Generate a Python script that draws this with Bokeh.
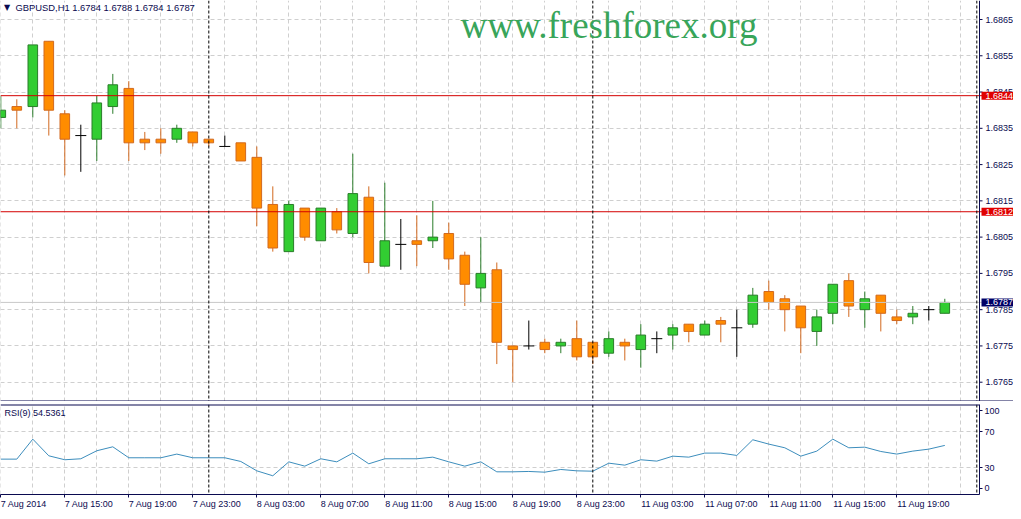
from bokeh.plotting import figure
from bokeh.models import Range1d, FixedTicker, Span, Label
from bokeh.layouts import column
from bokeh.embed import file_html
from bokeh.resources import INLINE

# ---------------- data (GBPUSD H1, 7 Aug 11:00 .. 11 Aug 22:00) ----------------
opens = [1.6838, 1.6841, 1.6841, 1.6859, 1.6839, 1.6833, 1.6832, 1.6841, 1.6846, 1.6832,
         1.6832, 1.6832, 1.6834, 1.6832, 1.6830, 1.6831, 1.6827, 1.6814, 1.6801, 1.6813,
         1.6804, 1.6812, 1.6806, 1.6816, 1.6797, 1.6803, 1.6804, 1.6804, 1.6806, 1.6800,
         1.6791, 1.6796, 1.6775, 1.6775, 1.6776, 1.6775, 1.6777, 1.6776, 1.6773, 1.6776,
         1.6774, 1.6777, 1.6778, 1.6781, 1.6778, 1.6782, 1.6780, 1.6781, 1.6790, 1.6788,
         1.6786, 1.6779, 1.6784, 1.6793, 1.6785, 1.6789, 1.6783, 1.6783, 1.6785, 1.6784]
highs = [1.6844, 1.6843, 1.6858, 1.6859, 1.6840, 1.6836, 1.6844, 1.6850, 1.6848, 1.6834,
         1.6835, 1.6836, 1.6834, 1.6832, 1.6833, 1.6831, 1.6830, 1.6819, 1.6815, 1.6813,
         1.6813, 1.6813, 1.6828, 1.6819, 1.6820, 1.6810, 1.6811, 1.6815, 1.6809, 1.6801,
         1.6805, 1.6798, 1.6775, 1.6782, 1.6777, 1.6777, 1.6782, 1.6776, 1.6779, 1.6777,
         1.6781, 1.6779, 1.6781, 1.6781, 1.6782, 1.6783, 1.6785, 1.6791, 1.6793, 1.6789,
         1.6786, 1.6785, 1.6792, 1.6795, 1.6790, 1.6789, 1.6785, 1.6786, 1.6786, 1.6788]
lows = [1.6835, 1.6835, 1.6838, 1.6833, 1.6822, 1.6823, 1.6826, 1.6839, 1.6826, 1.6829,
        1.6828, 1.6831, 1.6830, 1.6830, 1.6830, 1.6826, 1.6808, 1.6801, 1.6801, 1.6804,
        1.6804, 1.6806, 1.6805, 1.6795, 1.6797, 1.6796, 1.6797, 1.6802, 1.6796, 1.6786,
        1.6787, 1.6770, 1.6765, 1.6774, 1.6773, 1.6773, 1.6771, 1.6770, 1.6772, 1.6771,
        1.6769, 1.6773, 1.6774, 1.6776, 1.6778, 1.6776, 1.6772, 1.6780, 1.6785, 1.6779,
        1.6773, 1.6775, 1.6781, 1.6783, 1.6780, 1.6779, 1.6781, 1.6781, 1.6782, 1.6784]
closes = [1.6840, 1.6840, 1.6858, 1.6840, 1.6832, 1.6833, 1.6842, 1.6847, 1.6831, 1.6831,
          1.6831, 1.6835, 1.6831, 1.6831, 1.6830, 1.6826, 1.6813, 1.6802, 1.6814, 1.6805,
          1.6813, 1.6807, 1.6817, 1.6798, 1.6804, 1.6803, 1.6803, 1.6805, 1.6799, 1.6792,
          1.6795, 1.6776, 1.6774, 1.6775, 1.6774, 1.6776, 1.6772, 1.6772, 1.6777, 1.6775,
          1.6778, 1.6777, 1.6780, 1.6779, 1.6781, 1.6781, 1.6780, 1.6789, 1.6787, 1.6785,
          1.6780, 1.6783, 1.6792, 1.6786, 1.6788, 1.6784, 1.6782, 1.6784, 1.6785, 1.6787]
rsi = [39.3, 39.3, 61.5, 43.0, 38.6, 39.7, 48.6, 53.0, 40.8, 40.8,
       40.8, 44.9, 40.8, 40.8, 40.8, 36.7, 26.3, 20.8, 36.3, 31.5,
       39.7, 36.3, 46.0, 34.1, 39.7, 39.7, 39.7, 41.5, 36.3, 31.5,
       36.3, 25.2, 25.2, 25.6, 24.8, 27.8, 26.3, 25.9, 34.8, 32.6,
       38.6, 37.1, 42.6, 41.5, 46.0, 46.0, 43.4, 60.8, 56.0, 51.9,
       42.6, 48.2, 61.5, 51.9, 52.6, 47.8, 44.9, 48.2, 50.4, 54.5361]

time_ticks = [0, 4, 8, 12, 16, 20, 24, 28, 32, 36, 40, 44, 48, 52, 56]
time_labels = ["7 Aug 2014", "7 Aug 15:00", "7 Aug 19:00", "7 Aug 23:00", "8 Aug 03:00",
               "8 Aug 07:00", "8 Aug 11:00", "8 Aug 15:00", "8 Aug 19:00", "8 Aug 23:00",
               "11 Aug 03:00", "11 Aug 07:00", "11 Aug 11:00", "11 Aug 15:00", "11 Aug 19:00"]
price_ticks = [1.6765, 1.6775, 1.6785, 1.6795, 1.6805, 1.6815, 1.6825, 1.6835, 1.6845, 1.6855, 1.6865]
level_lines = [1.6844, 1.6812]
last_price = 1.6787
day_separators = [13, 37, 61]
rsi_ticks = [7, 30, 70, 93]
rsi_tick_labels = ["0", "30", "70", "100"]

# ---------------- styling / layout constants ----------------
NAVY = "#0a0a50"
GRID = "#cfcfcf"
BULL_FILL, BULL_LINE = "#32cd32", "#2a7d2a"
BEAR_FILL, BEAR_LINE = "#ff8c00", "#d2691e"
FONT = "Liberation Sans"
FS = "9px"
PX_PER_BAR = 16.0
X0 = -0.01875                 # left edge of the chart, in bars
SCALE_AT = 61.16875           # price-scale line, in bars
X_END_MAIN = 63.29375         # right edge of the price panel (includes the scale strip)

ADV = {" ": 0.278, ":": 0.278, "A": 0.667}


def text_width(s, size=9.0):
    return sum(ADV.get(ch, 0.556) for ch in s) * size


idx = list(range(len(opens)))

# ---------------- main price panel (scale strip drawn inside the frame) ----------------
y_lo, y_hi = 1.675968, 1.687024
p1 = figure(x_range=Range1d(X0, X_END_MAIN), y_range=Range1d(y_lo, y_hi),
            frame_width=1013, frame_height=401, output_backend="svg",
            toolbar_location=None, x_axis_location=None, y_axis_location=None,
            min_border_left=0, min_border_top=0, min_border_bottom=0, min_border_right=0)
p1.outline_line_color = None
p1.background_fill_color = "white"
p1.border_fill_color = "white"

for g in (p1.xgrid[0], p1.ygrid[0]):
    g.grid_line_color = GRID
    g.grid_line_dash = "4 3"
p1.xgrid[0].ticker = FixedTicker(ticks=list(range(0, 62, 2)))
p1.ygrid[0].ticker = FixedTicker(ticks=price_ticks)

# blank strip for the price scale
p1.quad(left=[SCALE_AT], right=[X_END_MAIN], bottom=[y_lo], top=[y_hi],
        fill_color="white", line_color=None)

# price scale: ticks and labels from the price scale values
p1.segment(x0=[SCALE_AT] * len(price_ticks), x1=[SCALE_AT + 3 / PX_PER_BAR] * len(price_ticks),
           y0=price_ticks, y1=price_ticks, line_color=NAVY, line_width=1)
p1.text(x=[SCALE_AT + 6 / PX_PER_BAR] * len(price_ticks), y=price_ticks,
        text=[f"{t:.4f}" for t in price_ticks], text_font_size=FS, text_color=NAVY,
        text_baseline="middle", text_align="left", text_font={"value": FONT})

for lv in level_lines:
    p1.add_layout(Span(location=lv, dimension="width", line_color="#d40000", line_width=1))
p1.add_layout(Span(location=last_price, dimension="width", line_color="#c8c8c8", line_width=1))
for d in day_separators:
    p1.add_layout(Span(location=d, dimension="height", line_color="black", line_dash="3 2", line_width=1))
p1.add_layout(Span(location=SCALE_AT, dimension="height", line_color=NAVY, line_width=1))
p1.add_layout(Span(location=y_lo, dimension="width", line_color=NAVY, line_width=2))

# candles
wick_col, bx, btop, bbot, bfill, bline, dx, dy = [], [], [], [], [], [], [], []
for i, o, h, l, c in zip(idx, opens, highs, lows, closes):
    if c > o:
        wick_col.append(BULL_LINE)
        bx.append(i); btop.append(c); bbot.append(o); bfill.append(BULL_FILL); bline.append(BULL_LINE)
    elif c < o:
        wick_col.append(BEAR_LINE)
        bx.append(i); btop.append(o); bbot.append(c); bfill.append(BEAR_FILL); bline.append(BEAR_LINE)
    else:
        wick_col.append("black")
        dx.append(i); dy.append(c)

p1.segment(x0=idx, y0=lows, x1=idx, y1=highs, line_color=wick_col, line_width=1)
p1.vbar(x=bx, width=0.6, top=btop, bottom=bbot, fill_color=bfill, line_color=bline, line_width=1)
p1.scatter(x=dx, y=dy, marker="dash", size=11, line_color="black", line_width=1)

# watermark and header text
p1.add_layout(Label(x=28.73, y=1.686321, text="www.freshforex.org", text_font="Liberation Serif",
                    text_font_size="37px", text_color="#38a55a", text_baseline="alphabetic"))
p1.add_layout(Label(x=0.39, y=1.686823, text="\u25bc", text_font="DejaVu Sans",
                    text_font_size="8px", text_color=NAVY, text_baseline="middle", text_align="center"))
p1.add_layout(Label(x=0.92, y=1.686823, text="GBPUSD,H1  1.6784 1.6788 1.6784 1.6787",
                    text_font=FONT, text_font_size="9.4px", text_color=NAVY, text_baseline="middle"))

# price boxes on the scale
box_pad = dict(left=4, right=4, top=1, bottom=1)
for lv, bg in ((level_lines[0], "#e00000"), (level_lines[1], "#e00000"), (last_price, "#000066")):
    p1.add_layout(Label(x=SCALE_AT + 2 / PX_PER_BAR, y=lv, text=f"{lv:.4f}", text_font=FONT,
                        text_font_size=FS, text_color="white", text_baseline="middle",
                        background_fill_color=bg, padding=box_pad))

# ---------------- RSI panel ----------------
p2 = figure(x_range=Range1d(X0, SCALE_AT), y_range=Range1d(0, 100),
            frame_width=979, frame_height=90, output_backend="svg",
            toolbar_location=None, y_axis_location="right",
            min_border_left=0, min_border_top=3, min_border_bottom=17, min_border_right=34)
p2.outline_line_color = None
p2.background_fill_color = "white"
p2.border_fill_color = "white"

ry = p2.yaxis[0]
ry.ticker = FixedTicker(ticks=rsi_ticks)
ry.major_label_overrides = {t: s for t, s in zip(rsi_ticks, rsi_tick_labels)}
ry.axis_line_color = NAVY
ry.major_tick_line_color = NAVY
ry.major_tick_out = 3
ry.major_tick_in = 0
ry.minor_tick_line_color = None
ry.major_label_standoff = 2
ry.major_label_text_font = FONT
ry.major_label_text_font_size = FS
ry.major_label_text_color = NAVY

# time labels start at their bar: put the (centred) label tick half a label width to the right
label_centres = [t + text_width(s) / 2.0 / PX_PER_BAR for t, s in zip(time_ticks, time_labels)]
bx_ax = p2.xaxis[0]
bx_ax.ticker = FixedTicker(ticks=label_centres, minor_ticks=time_ticks)
bx_ax.major_label_overrides = {t: s for t, s in zip(label_centres, time_labels)}
bx_ax.axis_line_color = NAVY
bx_ax.major_tick_line_color = None
bx_ax.major_tick_out = 0
bx_ax.major_tick_in = 0
bx_ax.minor_tick_line_color = NAVY
bx_ax.minor_tick_out = 3
bx_ax.minor_tick_in = 0
bx_ax.major_label_standoff = 1
bx_ax.major_label_text_font = FONT
bx_ax.major_label_text_font_size = FS
bx_ax.major_label_text_color = NAVY

for g in (p2.xgrid[0], p2.ygrid[0]):
    g.grid_line_color = GRID
    g.grid_line_dash = "4 3"
p2.xgrid[0].ticker = FixedTicker(ticks=list(range(0, 62, 2)))
p2.ygrid[0].ticker = FixedTicker(ticks=[30, 70])

for d in day_separators:
    p2.add_layout(Span(location=d, dimension="height", line_color="black", line_dash="3 2", line_width=1))
p2.add_layout(Span(location=100, dimension="width", line_color=NAVY, line_width=2))

p2.line(x=idx, y=rsi, line_color="#3c8dbc", line_width=1)
p2.add_layout(Label(x=0.23, y=90.8, text="RSI(9) 54.5361", text_font=FONT, text_font_size=FS,
                    text_color=NAVY, text_baseline="middle"))

layout = column(p1, p2, spacing=0)
open("out.html", "w").write(file_html(layout, INLINE))
